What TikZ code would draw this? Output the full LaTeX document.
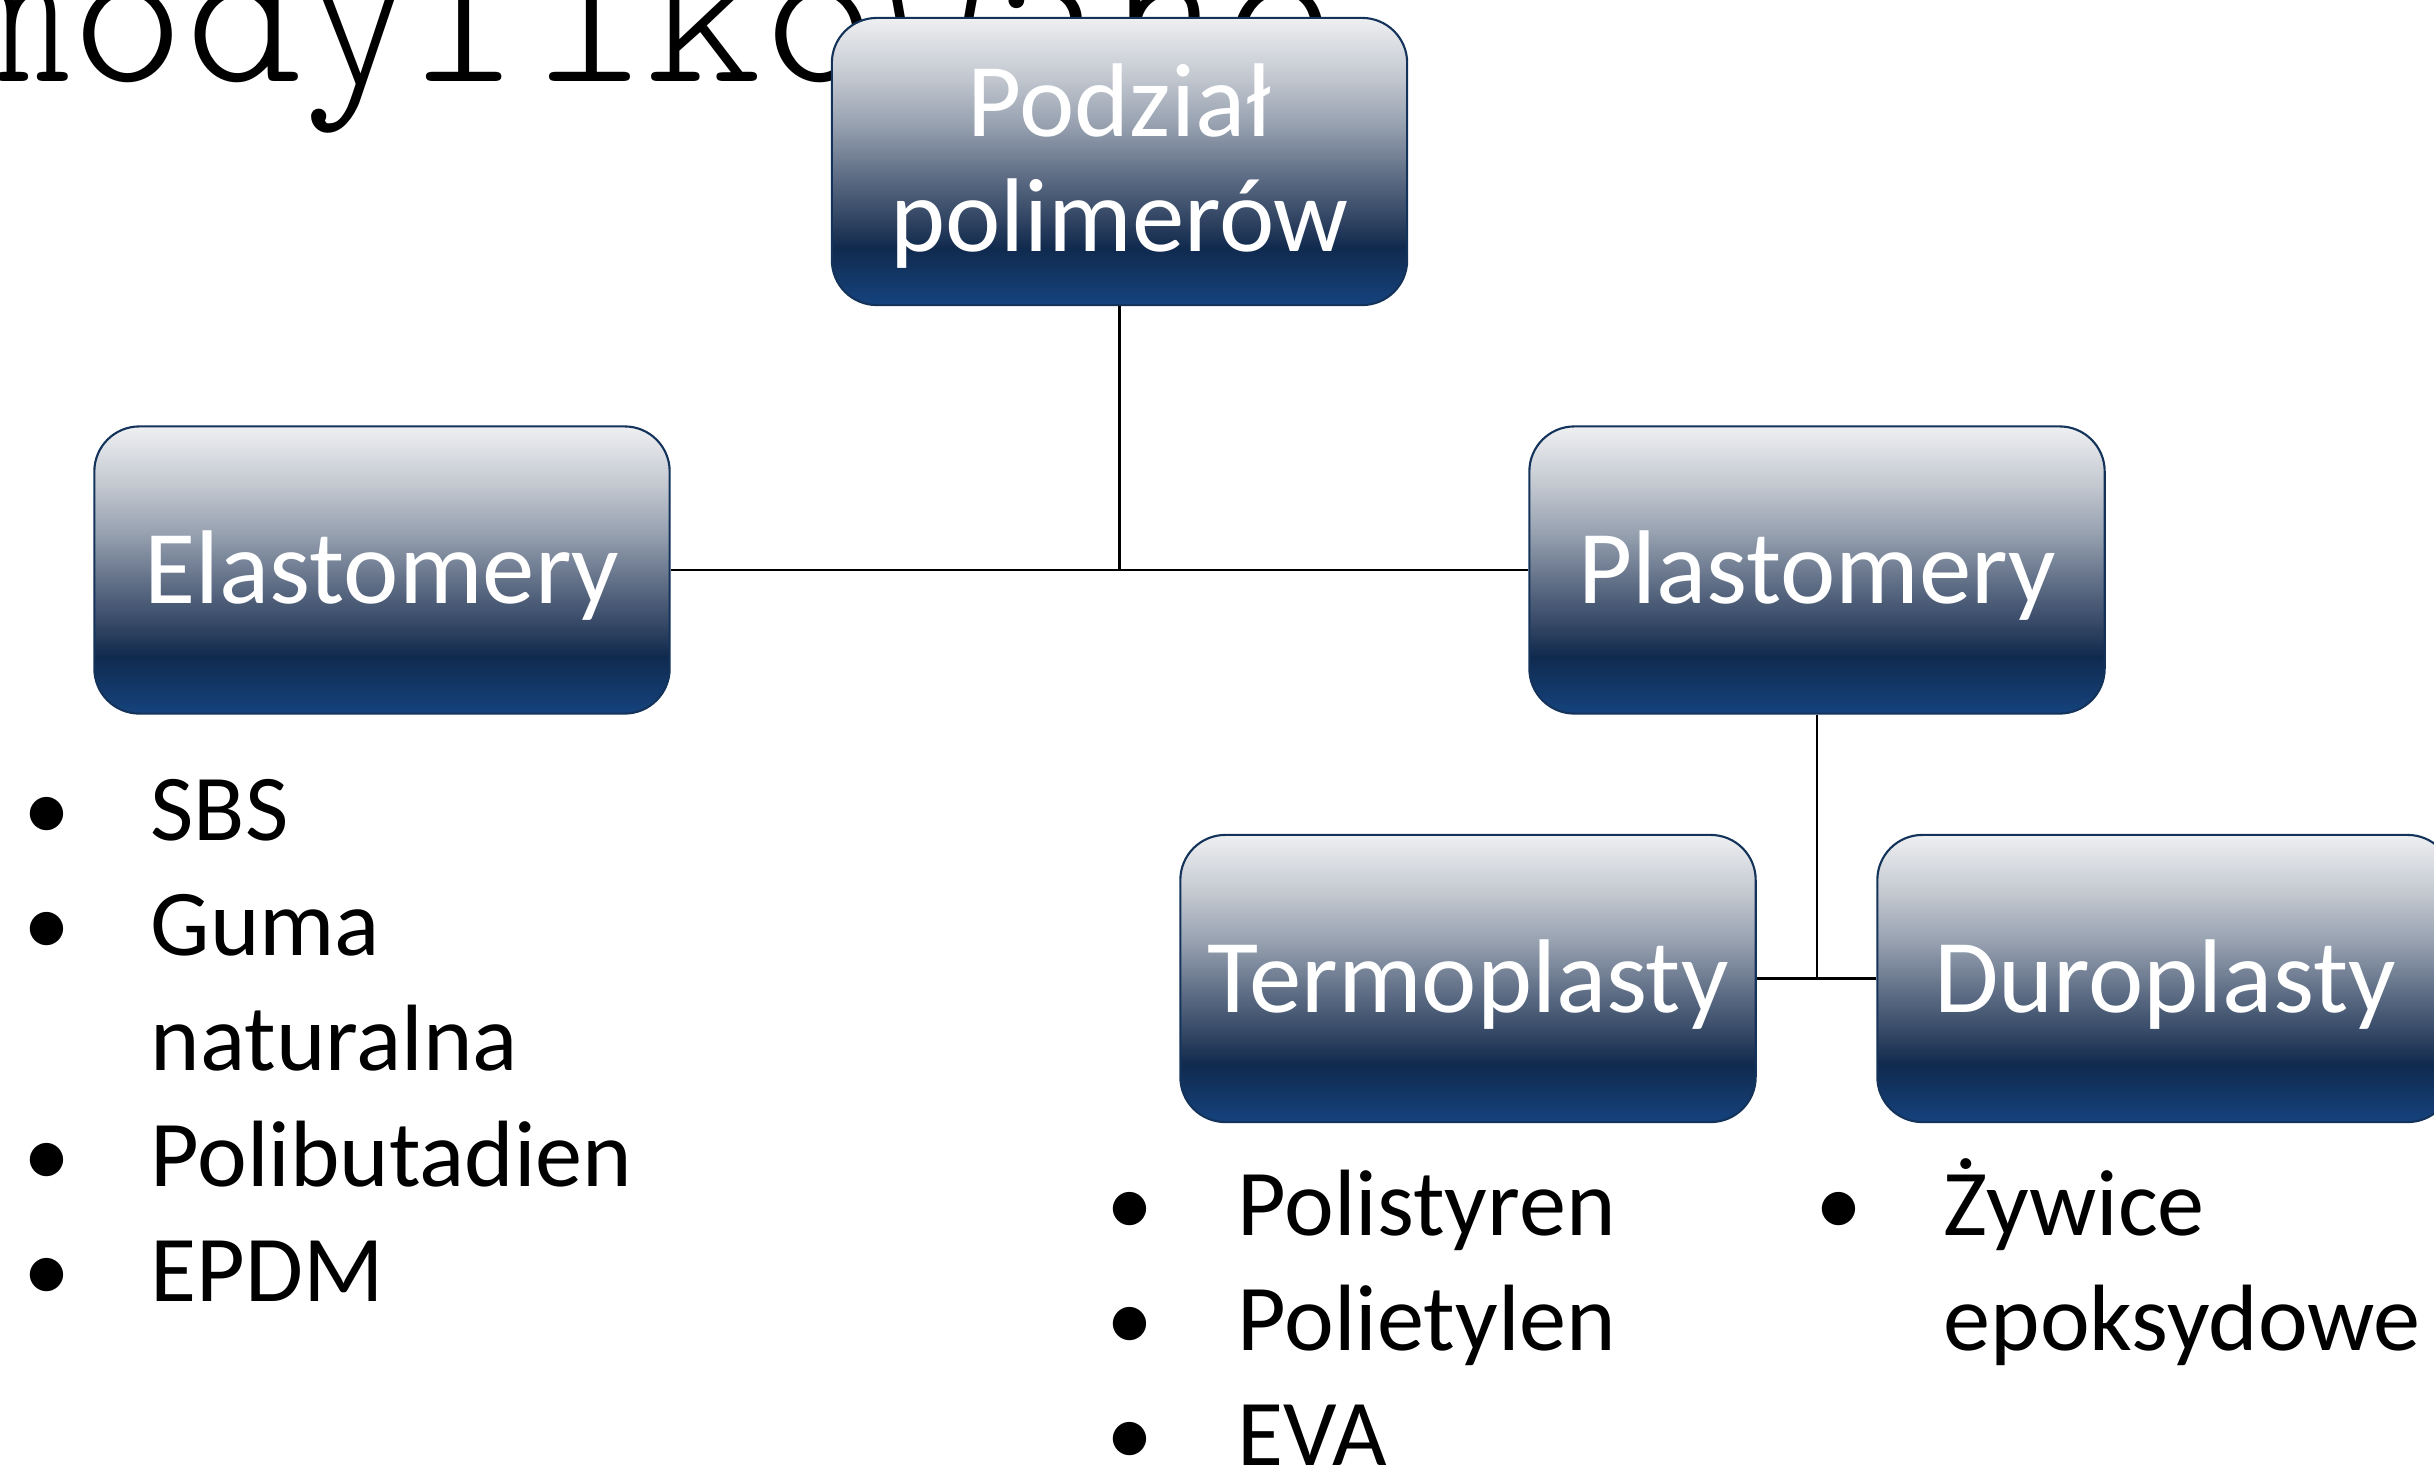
\documentclass[tikz,border=0pt]{standalone}
\usepackage{fontspec}
\setmainfont{Carlito}
\newfontfamily\monofont{lmmonolt10-regular.otf}
\definecolor{g0}{HTML}{EEEFF1}
\definecolor{g1}{HTML}{C4C9D1}
\definecolor{g2}{HTML}{97A1B0}
\definecolor{g3}{HTML}{5E6D85}
\definecolor{g4}{HTML}{2B3F5E}
\definecolor{g5}{HTML}{102A4E}
\definecolor{g6}{HTML}{15437E}
\definecolor{boxline}{HTML}{14335A}
\pgfdeclareverticalshading{boxgrad}{100bp}{color(0bp)=(g6); color(25bp)=(g6); color(35bp)=(g5); color(39bp)=(g4); color(47.5bp)=(g3); color(56.5bp)=(g2); color(65bp)=(g1); color(75bp)=(g0); color(100bp)=(g0)}
\tikzset{
  pbox/.style={rectangle, rounded corners=0.45cm, draw=boxline, line width=0.6pt,
    shade, shading=boxgrad, minimum width=5.75cm, minimum height=2.87cm, inner sep=0pt,
    text=white, font=\fontsize{29.8pt}{32.8pt}\selectfont, text height=19.2pt, text depth=0pt},
  boxtxt/.style={anchor=base, inner sep=0pt, text=white, font=\fontsize{29.8pt}{32.8pt}\selectfont},
  conn/.style={draw=black, line width=0.8pt},
  itemtxt/.style={anchor=base west, inner sep=0pt, font=\fontsize{26.8pt}{32.8pt}\selectfont},
  bul/.style={anchor=base, inner sep=0pt, font=\fontsize{26.8pt}{32.8pt}\selectfont},
}
\begin{document}
\begin{tikzpicture}[x=0.01cm, y=-0.01cm]
\useasboundingbox (0,0) rectangle (2434,1470);
\node[anchor=base west, inner sep=0pt, font=\monofont\fontsize{62.4pt}{66pt}\selectfont] (title) at (-45,82) {modyfikowane};

\node[pbox] (pod) at (1119.5,161.5) {};
\node[boxtxt] (pod1) at (1119.5,137) {Podział};
\node[boxtxt] (pod2) at (1119.5,252) {polimerów};
\node[pbox] (ela) at (382,570) {Elastomery};
\node[pbox] (pla) at (1817,570) {Plastomery};
\node[pbox] (ter) at (1468,978.5) {Termoplasty};
\node[pbox] (dur) at (2165,978.5) {Duroplasty};

\draw[conn] (pod.south) -- (pod.south |- ela.east);
\draw[conn] (ela.east) -- (pla.west);
\draw[conn] (pla.south) -- (pla.south |- ter.east);
\draw[conn] (ter.east) -- (dur.west);

% Elastomery list
\node[bul] (eb1) at (47,840) {•};
\node[itemtxt] (e1) at (150,840) {SBS};
\node[bul] (eb2) at (47,955) {•};
\node[itemtxt] (e2) at (150,955) {Guma};
\node[itemtxt] (e2b) at (150,1070) {naturalna};
\node[bul] (eb3) at (47,1186) {•};
\node[itemtxt] (e3) at (150,1186) {Polibutadien};
\node[bul] (eb4) at (47,1301) {•};
\node[itemtxt] (e4) at (150,1301) {EPDM};

% Termoplasty list
\node[bul] (tb1) at (1130,1235) {•};
\node[itemtxt] (t1) at (1237,1235) {Polistyren};
\node[bul] (tb2) at (1130,1350) {•};
\node[itemtxt] (t2) at (1237,1350) {Polietylen};
\node[bul] (tb3) at (1130,1465) {•};
\node[itemtxt] (t3) at (1237,1465) {EVA};

% Duroplasty list
\node[bul] (db1) at (1839,1235) {•};
\node[itemtxt] (d1) at (1943,1235) {Żywice};
\node[itemtxt] (d2) at (1943,1350) {epoksydowe};
\end{tikzpicture}
\end{document}
